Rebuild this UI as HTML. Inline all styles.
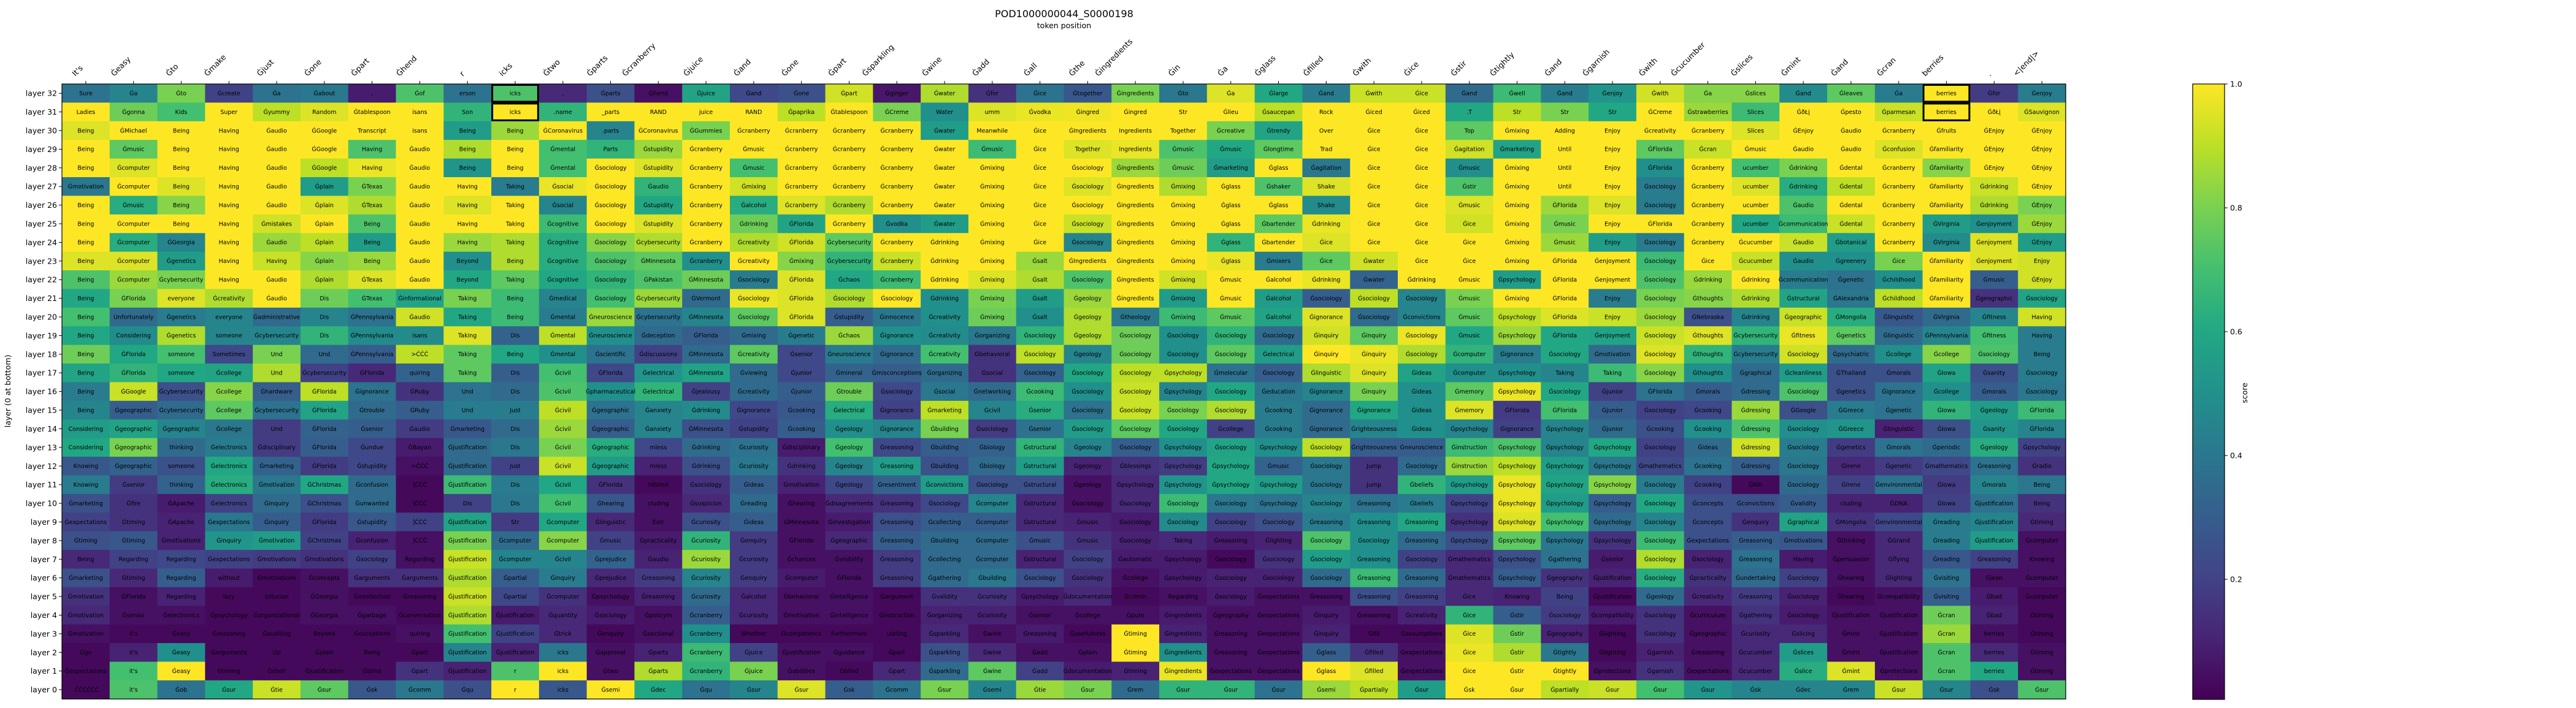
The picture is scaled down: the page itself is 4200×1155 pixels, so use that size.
<!DOCTYPE html>
<html><head><meta charset="utf-8"><title>POD1000000044_S0000198</title>
<style>
html,body{margin:0;padding:0;background:#fff;}
svg{display:block;font-family:"DejaVu Sans","Liberation Sans",sans-serif;}
</style></head>
<body>
<svg id="chart" xmlns="http://www.w3.org/2000/svg" width="4200" height="1155" viewBox="0 0 4200 1155">
<rect x="0" y="0" width="4200" height="1155" fill="#fff"/>
<text x="1735" y="28" font-size="16" text-anchor="middle" fill="#000">POD1000000044_S0000198</text>
<text x="1735" y="46" font-size="12.5" text-anchor="middle" fill="#000">token position</text>
<text x="0" y="0" font-size="12.5" text-anchor="middle" fill="#000" transform="translate(17,638) rotate(-90)">layer (0 at bottom)</text>
<g id="cells"></g>
<g id="labels"></g>
<g id="xticks"></g>
<g id="yticks"></g>
<g id="highlights"></g>
<rect id="frame" fill="none" stroke="#000" stroke-width="1.2"/>
<defs><linearGradient id="vgrad" x1="0" y1="1" x2="0" y2="0"></linearGradient></defs>
<g id="cbar"></g>
<text x="0" y="0" font-size="12.5" text-anchor="middle" fill="#000" transform="translate(3664,641) rotate(-90)">score</text>
</svg>
<script>
// ---------- data ----------
const xTickLabels = ["It's","Ġeasy","Ġto","Ġmake","Ġjust","Ġone","Ġpart","Ġhend","r","icks","Ġtwo","Ġparts","Ġcranberry","Ġjuice","Ġand","Ġone","Ġpart","Ġsparkling","Ġwine","Ġadd","Ġall","Ġthe","Ġingredients","Ġin","Ġa","Ġglass","Ġfilled","Ġwith","Ġice","Ġstir","Ġtightly","Ġand","Ġgarnish","Ġwith","Ġcucumber","Ġslices","Ġmint","Ġand","Ġcran","berries",".","<|end|>"];
const layerLabels = [32,31,30,29,28,27,26,25,24,23,22,21,20,19,18,17,16,15,14,13,12,11,10,9,8,7,6,5,4,3,2,1,0];
const colorbarTicks = [0.2,0.4,0.6,0.8,1.0];
const colorbarTickLabels = ["0.2","0.4","0.6","0.8","1.0"];
const highlightCells = [[32,9],[31,9],[32,39],[31,39]];
const scoreMin = 0.006, scoreMax = 1.0;

// tokens per row, layer 32 first
const tokens = [
"Sure|Ġa|Ġto|Ġcreate|Ġa|Ġabout|,|Ġof|erson|icks|,|Ġparts|Ġhend|Ġjuice|Ġand|Ġone|Ġpart|Ġginger|Ġwater|Ġfor|Ġice|Ġtogether|Ġingredients|Ġto|Ġa|Ġlarge|Ġand|Ġwith|Ġice|Ġand|Ġwell|Ġand|Ġenjoy|Ġwith|Ġa|Ġslices|Ġand|Ġleaves|Ġa|berries|Ġfor|Ġenjoy",
"Ladies|Ġgonna|Kids|Super|Ġyummy|Random|Ġtablespoon|isans|Son|icks|.name|_parts|RAND|juice|RAND|Ġpaprika|Ġtablespoon|ĠCreme|Water|umm|Ġvodka|Ġingred|Ġingred|Str|Ġlieu|Ġsaucepan|Rock|Ġiced|Ġiced|.T|Str|Str|Str|ĠCreme|Ġstrawberries|Slices|ĠðŁį|Ġpesto|Ġparmesan|berries|ĠðŁį|ĠSauvignon",
"Being|ĠMichael|Being|Having|Ġaudio|ĠGoogle|Transcript|isans|Being|Being|ĠCoronavirus|.parts|ĠCoronavirus|ĠGummies|Ġcranberry|Ġcranberry|Ġcranberry|Ġcranberry|Ġwater|Meanwhile|Ġice|ĠIngredients|Ingredients|Together|Ġcreative|Ġtrendy|Over|Ġice|Ġice|Top|Ġmixing|Adding|Enjoy|Ġcreativity|Ġcranberry|Slices|ĠEnjoy|Ġaudio|Ġcranberry|Ġfruits|ĠEnjoy|ĠEnjoy",
"Being|Ġmusic|Being|Having|Ġaudio|ĠGoogle|Having|Ġaudio|Being|Being|Ġmental|Parts|Ġstupidity|Ġcranberry|Ġmusic|Ġcranberry|Ġcranberry|Ġcranberry|Ġwater|Ġmusic|Ġice|Together|Ingredients|Ġmusic|Ġmusic|Ġlongtime|Trad|Ġice|Ġice|Ġagitation|Ġmarketing|Until|Enjoy|ĠFlorida|Ġcran|Ġmusic|Ġaudio|Ġaudio|Ġconfusion|Ġfamiliarity|ĠEnjoy|ĠEnjoy",
"Being|Ġcomputer|Being|Having|Ġaudio|ĠGoogle|Having|Ġaudio|Being|Being|Ġmental|Ġsociology|Ġstupidity|Ġcranberry|Ġmusic|Ġcranberry|Ġcranberry|Ġcranberry|Ġwater|Ġmixing|Ġice|Ġsociology|Ġingredients|Ġmusic|Ġmarketing|Ġglass|Ġagitation|Ġice|Ġice|Ġmusic|Ġmixing|Until|Enjoy|ĠFlorida|Ġcranberry|ucumber|Ġdrinking|Ġdental|Ġcranberry|Ġfamiliarity|ĠEnjoy|ĠEnjoy",
"Ġmotivation|Ġcomputer|Being|Having|Ġaudio|Ġplain|ĠTexas|Ġaudio|Having|Taking|Ġsocial|Ġsociology|Ġaudio|Ġcranberry|Ġmixing|Ġcranberry|Ġcranberry|Ġcranberry|Ġwater|Ġmixing|Ġice|Ġsociology|Ġingredients|Ġmixing|Ġglass|Ġshaker|Shake|Ġice|Ġice|Ġstir|Ġmixing|Until|Enjoy|Ġsociology|Ġcranberry|ucumber|Ġdrinking|Ġdental|Ġcranberry|Ġfamiliarity|Ġdrinking|ĠEnjoy",
"Being|Ġmusic|Being|Having|Ġaudio|Ġplain|ĠTexas|Ġaudio|Having|Taking|Ġsocial|Ġsociology|Ġstupidity|Ġcranberry|Ġalcohol|Ġcranberry|Ġcranberry|Ġcranberry|Ġwater|Ġmixing|Ġice|Ġsociology|Ġingredients|Ġmixing|Ġglass|Ġglass|Shake|Ġice|Ġice|Ġmusic|Ġmixing|ĠFlorida|Enjoy|Ġsociology|Ġcranberry|ucumber|Ġaudio|Ġdental|Ġcranberry|Ġfamiliarity|Ġdrinking|ĠEnjoy",
"Being|Ġcomputer|Being|Having|Ġmistakes|Ġplain|Being|Ġaudio|Having|Taking|Ġcognitive|Ġsociology|Ġstupidity|Ġcranberry|Ġdrinking|ĠFlorida|Ġcranberry|Ġvodka|Ġwater|Ġmixing|Ġice|Ġsociology|Ġingredients|Ġmixing|Ġglass|Ġbartender|Ġdrinking|Ġice|Ġice|Ġice|Ġmixing|Ġmusic|Enjoy|ĠFlorida|Ġcranberry|ucumber|Ġcommunication|Ġdental|Ġcranberry|ĠVirginia|Ġenjoyment|ĠEnjoy",
"Being|Ġcomputer|ĠGeorgia|Having|Ġaudio|Ġplain|Being|Ġaudio|Having|Taking|Ġcognitive|Ġsociology|Ġcybersecurity|Ġcranberry|Ġcreativity|ĠFlorida|Ġcybersecurity|Ġcranberry|Ġdrinking|Ġmixing|Ġice|Ġsociology|Ġingredients|Ġmixing|Ġglass|Ġbartender|Ġice|Ġice|Ġice|Ġice|Ġmixing|Ġmusic|Enjoy|Ġsociology|Ġcranberry|Ġcucumber|Ġaudio|Ġbotanical|Ġcranberry|ĠVirginia|Ġenjoyment|ĠEnjoy",
"Being|Ġcomputer|Ġgenetics|Having|Having|Ġplain|Being|Ġaudio|Beyond|Being|Ġcognitive|Ġsociology|ĠMinnesota|Ġcranberry|Ġcreativity|Ġmixing|Ġcybersecurity|Ġcranberry|Ġdrinking|Ġmixing|Ġsalt|ĠIngredients|Ġingredients|Ġmixing|Ġglass|Ġmixers|Ġice|Ġwater|Ġice|Ġice|Ġmixing|ĠFlorida|Ġenjoyment|Ġsociology|Ġice|Ġcucumber|Ġaudio|Ġgreenery|Ġice|Ġfamiliarity|Ġenjoyment|Enjoy",
"Being|Ġcomputer|Ġcybersecurity|Having|Ġaudio|Ġplain|ĠTexas|Ġaudio|Beyond|Taking|Ġcognitive|Ġsociology|ĠPakistan|ĠMinnesota|Ġsociology|ĠFlorida|Ġchaos|Ġcranberry|Ġdrinking|Ġmixing|Ġsalt|Ġsociology|Ġingredients|Ġmixing|Ġmusic|Ġalcohol|Ġdrinking|Ġwater|Ġdrinking|Ġmusic|Ġpsychology|ĠFlorida|Ġenjoyment|Ġsociology|Ġdrinking|Ġdrinking|Ġcommunication|Ġgenetic|Ġchildhood|Ġfamiliarity|Ġmusic|ĠEnjoy",
"Being|ĠFlorida|everyone|Ġcreativity|Ġaudio|Dis|ĠTexas|Ġinformational|Taking|Being|Ġmedical|Ġsociology|Ġcybersecurity|ĠVermont|Ġsociology|ĠFlorida|Ġsociology|Ġsociology|Ġdrinking|Ġmixing|Ġsalt|Ġgeology|Ġingredients|Ġmixing|Ġmusic|Ġalcohol|Ġsociology|Ġsociology|Ġsociology|Ġmusic|Ġmixing|ĠFlorida|Enjoy|Ġsociology|Ġthoughts|Ġdrinking|Ġstructural|ĠAlexandria|Ġchildhood|Ġfamiliarity|Ġgeographic|Ġsociology",
"Being|Unfortunately|Ġgenetics|everyone|Ġadministrative|Dis|ĠPennsylvania|Ġaudio|Taking|Being|Ġmental|Ġneuroscience|Ġcybersecurity|ĠMinnesota|Ġsociology|ĠFlorida|Ġstupidity|Ġinnocence|Ġcreativity|Ġmixing|Ġsalt|Ġgeology|Ġtheology|Ġmixing|Ġmusic|Ġalcohol|Ġignorance|Ġsociology|Ġconvictions|Ġmusic|Ġpsychology|ĠFlorida|Enjoy|Ġsociology|ĠNebraska|Ġdrinking|Ġgeographic|ĠMongolia|Ġlinguistic|ĠVirginia|Ġfitness|Having",
"Being|Considering|Ġgenetics|someone|Ġcybersecurity|Dis|ĠPennsylvania|isans|Taking|Dis|Ġmental|Ġneuroscience|Ġdeception|ĠFlorida|Ġmixing|Ġgenetic|Ġchaos|Ġignorance|Ġcreativity|Ġorganizing|Ġsociology|Ġgeology|Ġsociology|Ġsociology|Ġsociology|Ġsociology|Ġinquiry|Ġinquiry|Ġsociology|Ġmusic|Ġpsychology|ĠFlorida|Ġenjoyment|Ġsociology|Ġthoughts|Ġcybersecurity|Ġfitness|Ġgenetics|Ġlinguistic|ĠPennsylvania|Ġfitness|Having",
"Being|ĠFlorida|someone|Sometimes|Und|Und|ĠPennsylvania|>ĊĊĊ|Taking|Being|Ġmental|Ġscientific|Ġdiscussions|ĠMinnesota|Ġcreativity|Ġsenior|Ġneuroscience|Ġignorance|Ġcreativity|Ġbehavioral|Ġsociology|Ġgeology|Ġsociology|Ġsociology|Ġsociology|Ġelectrical|Ġinquiry|Ġinquiry|Ġsociology|Ġcomputer|Ġignorance|Ġsociology|Ġmotivation|Ġsociology|Ġthoughts|Ġcybersecurity|Ġsociology|Ġpsychiatric|Ġcollege|Ġcollege|Ġsociology|Being",
"Being|ĠFlorida|someone|Ġcollege|Und|Ġcybersecurity|ĠFlorida|quiring|Taking|Dis|Ġcivil|ĠFlorida|Ġelectrical|ĠMinnesota|Ġviewing|Ġjunior|Ġmineral|Ġmisconceptions|Ġorganizing|Ġsocial|Ġsociology|Ġsociology|Ġsociology|Ġpsychology|Ġmolecular|Ġsociology|Ġlinguistic|Ġinquiry|Ġideas|Ġcomputer|Ġpsychology|Taking|Taking|Ġsociology|Ġthoughts|Ġgraphical|Ġcleanliness|ĠThailand|Ġmorals|ĠIowa|Ġsanity|Ġsociology",
"Being|ĠGoogle|Ġcybersecurity|Ġcollege|Ġhardware|ĠFlorida|Ġignorance|ĠRuby|Und|Dis|Ġcivil|Ġpharmaceutical|Ġelectrical|Ġjealousy|Ġcreativity|Ġjunior|Ġtrouble|Ġsociology|Ġsocial|Ġnetworking|Ġcooking|Ġsociology|Ġsociology|Ġpsychology|Ġsociology|Ġeducation|Ġignorance|Ġinquiry|Ġideas|Ġmemory|Ġpsychology|Ġsociology|Ġjunior|ĠFlorida|Ġmorals|Ġdressing|Ġsociology|Ġgenetics|Ġignorance|Ġcollege|Ġmorals|Ġsociology",
"Being|Ġgeographic|Ġcybersecurity|Ġcollege|Ġcybersecurity|ĠFlorida|Ġtrouble|ĠRuby|Und|Just|Ġcivil|Ġgeographic|Ġanxiety|Ġdrinking|Ġignorance|Ġcooking|Ġelectrical|Ġignorance|Ġmarketing|Ġcivil|Ġsenior|Ġsociology|Ġsociology|Ġsociology|Ġsociology|Ġcooking|Ġignorance|Ġignorance|Ġideas|Ġmemory|ĠFlorida|ĠFlorida|Ġjunior|Ġsociology|Ġcooking|Ġdressing|ĠGoogle|ĠGreece|Ġgenetic|ĠIowa|Ġgeology|ĠFlorida",
"Considering|Ġgeographic|Ġgeographic|Ġcollege|Und|ĠFlorida|Ġsenior|Ġaudio|Ġmarketing|Dis|Ġcivil|Ġgeographic|Ġanxiety|ĠMinnesota|Ġstupidity|Ġcooking|Ġgeology|Ġignorance|Ġbuilding|Ġsociology|Ġsenior|Ġsociology|Ġsociology|Ġsociology|Ġcollege|Ġcooking|Ġignorance|Ġrighteousness|Ġideas|Ġpsychology|Ġignorance|Ġpsychology|Ġjunior|Ġcooking|Ġcooking|Ġdressing|Ġsociology|ĠGreece|Ġlinguistic|ĠIowa|Ġsanity|ĠFlorida",
"Considering|Ġgeographic|thinking|Ġelectronics|Ġdisciplinary|ĠFlorida|Ġundue|ĠBayan|Ġjustification|Dis|Ġcivil|Ġgeographic|mless|Ġdrinking|Ġcuriosity|Ġdisciplinary|Ġgeology|Ġreasoning|Ġbuilding|Ġbiology|Ġstructural|Ġgeology|Ġsociology|Ġpsychology|Ġsociology|Ġpsychology|Ġsociology|Ġrighteousness|Ġneuroscience|Ġinstruction|Ġpsychology|Ġpsychology|Ġpsychology|Ġsociology|Ġideas|Ġdressing|Ġsociology|Ġgenetics|Ġmorals|Ġperiodic|Ġgeology|Ġpsychology",
"Knowing|Ġgeographic|someone|Ġelectronics|Ġmarketing|ĠFlorida|Ġstupidity|>ĊĊĊ|Ġjustification|Just|Ġcivil|Ġgeographic|mless|Ġdrinking|Ġcuriosity|Ġdrinking|Ġgeology|Ġreasoning|Ġbuilding|Ġbiology|Ġstructural|Ġgeology|Ġblessings|Ġpsychology|Ġpsychology|Ġmusic|Ġsociology|Jump|Ġsociology|Ġinstruction|Ġpsychology|Ġpsychology|Ġpsychology|Ġmathematics|Ġcooking|Ġdressing|Ġsociology|Ġlrene|Ġgenetic|Ġmathematics|Ġreasoning|Ġradio",
"Knowing|Ġsenior|thinking|Ġelectronics|Ġmotivation|ĠChristmas|Ġconfusion|]ĊĊĊ|Ġjustification|Dis|Ġcivil|ĠFlorida|hibited|Ġsociology|Ġideas|Ġmotivation|Ġgeology|Ġresentment|Ġconvictions|Ġsociology|Ġstructural|Ġgeology|Ġpsychology|Ġpsychology|Ġpsychology|Ġpsychology|Ġsociology|Jump|Ġbeliefs|Ġpsychology|Ġpsychology|Ġpsychology|Ġpsychology|Ġsociology|Ġcooking|ĠNih|Ġsociology|Ġlrene|Ġenvironmental|ĠIowa|Ġmorals|Being",
"Ġmarketing|Ġfire|ĠApache|Ġelectronics|Ġinquiry|ĠChristmas|Ġunwanted|]ĊĊĊ|Dis|Dis|Ġcivil|Ġhearing|cluding|Ġsuspicion|Ġreading|Ġhearing|Ġdisagreements|Ġreasoning|Ġsociology|Ġcomputer|Ġstructural|Ġsociology|Ġsociology|Ġsociology|Ġsociology|Ġpsychology|Ġsociology|Ġreasoning|Ġbeliefs|Ġpsychology|Ġpsychology|Ġpsychology|Ġpsychology|Ġsociology|Ġconcepts|Ġconvictions|Ġvalidity|cluding|ĠDNA|ĠIowa|Ġjustification|Being",
"Ġexpectations|Ġtiming|ĠApache|Ġexpectations|Ġinquiry|ĠFlorida|Ġstupidity|]ĊĊĊ|Ġjustification|Str|Ġcomputer|Ġlinguistic|Extr|Ġcuriosity|Ġideas|ĠMinnesota|Ġinvestigation|Ġreasoning|Ġcollecting|Ġcomputer|Ġstructural|Ġmusic|Ġsociology|Ġsociology|Ġsociology|Ġsociology|Ġreasoning|Ġreasoning|Ġreasoning|Ġpsychology|Ġpsychology|Ġpsychology|Ġpsychology|Ġsociology|Ġconcepts|Ġenquiry|Ġgraphical|ĠMongolia|Ġenvironmental|Ġreading|Ġjustification|Ġtiming",
"Ġtiming|Ġtiming|Ġmotivations|Ġinquiry|Ġmotivation|ĠChristmas|Ġconfusion|]ĊĊĊ|Ġjustification|Ġcomputer|Ġcomputer|Ġmusic|Ġpracticality|Ġcuriosity|Ġenquiry|ĠFlorida|Ġgeographic|Ġreasoning|Ġbuilding|Ġcomputer|Ġmusic|Ġmusic|Ġsociology|Taking|Ġreasoning|Ġlighting|Ġsociology|Ġsociology|Ġreasoning|Ġpsychology|Ġpsychology|Ġpsychology|Ġpsychology|Ġsociology|Ġexpectations|Ġreasoning|Ġmotivations|Ġthinking|ĠGrand|Ġreading|Ġjustification|Ġcomputer",
"Being|Regarding|Regarding|Ġexpectations|Ġmotivations|Ġmotivations|Ġsociology|Regarding|Ġjustification|Ġcomputer|Ġcivil|Ġprejudice|Ġaudio|Ġcuriosity|Ġcuriosity|Ġchances|Ġvisibility|Ġreasoning|Ġcollecting|Ġcomputer|Ġstructural|Ġsociology|Ġautomatic|Ġpsychology|Ġsociology|Ġsociology|Ġsociology|Ġreasoning|Ġsociology|Ġmathematics|Ġpsychology|Ġgathering|Ġsenior|Ġsociology|Ġsociology|Ġreasoning|Having|Ġpersuasion|Ġflying|Ġreading|Ġreasoning|Knowing",
"Ġmarketing|Ġtiming|Regarding|without|Ġmotivations|Ġconcepts|Ġarguments|Ġarguments|Ġjustification|Ġpartial|Ġinquiry|Ġprejudice|Ġreasoning|Ġcuriosity|Ġenquiry|Ġcomputer|ĠFlorida|Ġreasoning|Ġgathering|Ġbuilding|Ġsociology|Ġsociology|Ġcollege|Ġpsychology|Ġsociology|Ġsociology|Ġsociology|Ġreasoning|Ġreasoning|Ġmathematics|Ġpsychology|Ġgeography|Ġjustification|Ġsociology|Ġpracticality|Ġundertaking|Ġsociology|Ġhearing|Ġlighting|Ġvisiting|Ġjean|Ġcomputer",
"Ġmotivation|ĠFlorida|Regarding|lazy|stitution|ĠGeorgia|Ġintellectual|Ġreasoning|Ġjustification|Ġpartial|Ġcomputer|Ġpsychology|Ġreasoning|Ġcuriosity|Ġalcohol|Ġbehavioral|Ġintelligence|Ġargument|Ġvalidity|Ġcuriosity|Ġpsychology|Ġdocumentation|Ġcrimin|Regarding|Ġsociology|Ġexpectations|Ġreasoning|Ġreasoning|Ġreasoning|Ġice|Knowing|Being|Ġjustification|Ġgeology|Ġcreativity|Ġreasoning|Ġsociology|Ġhearing|Ġcompatibility|Ġvisiting|Ġbad|Ġcomputer",
"Ġmotivation|Ġsenior|Ġelectronics|Ġpsychology|Ġorganizational|ĠGeorgia|Ġgarbage|Ġconversation|Ġjustification|Ġjustification|Ġquantity|Ġsociology|Ġpolicym|Ġcranberry|Ġcuriosity|Ġmotivation|Ġintelligence|Ġinstruction|Ġorganizing|Ġcuriosity|Ġsenior|Ġcollege|Ġpure|Ġingredients|Ġgeography|Ġexpectations|Ġinquiry|Ġreasoning|Ġcreativity|Ġice|Ġstir|Ġsociology|Ġcompatibility|Ġsociology|Ġcurriculum|Ġgathering|Ġsociology|Ġjustification|Ġjustification|Ġcran|Ġbad|Ġtiming",
"Ġmotivation|it's|Ġeasy|Ġreasoning|Ġauditing|Beyond|Ġexceptions|quiring|Ġjustification|Ġjustification|Ġtrick|Ġenquiry|Ġsectional|Ġcranberry|Whether|Ġcompetence|Furthermore|ulating|Ġsparkling|Ġwine|Ġreasoning|Ġusefulness|Ġtiming|Ġingredients|Ġreasoning|Ġexpectations|Ġinquiry|Ġfill|Ġassumptions|Ġice|Ġstir|Ġgeography|Ġlighting|Ġsociology|Ġgeographic|Ġcuriosity|Ġslicing|Ġmint|Ġjustification|Ġcran|berries|Ġtiming",
"Ġge|it's|Ġeasy|Ġarguments|Up|Ġplain|Being|Ġpart|Ġjustification|Ġjustification|icks|Ġapproval|Ġparts|Ġcranberry|Ġjuice|Ġjustification|Ġguidance|Ġpart|Ġsparkling|Ġwine|Ġadd|Ġplain|Ġtiming|Ġingredients|Ġreasoning|Ġexpectations|Ġglass|Ġfilled|Ġexpectations|Ġice|Ġstir|Ġtightly|Ġlighting|Ġgarnish|Ġreasoning|Ġcucumber|Ġslices|Ġmint|Ġjustification|Ġcran|berries|Ġtiming",
"Ġexpectations|it's|Ġeasy|Ġtiming|Ġshell|Ġjustification|Ġblind|Ġpart|Ġjustification|r|icks|Ġtwo|Ġparts|Ġcranberry|Ġjuice|Ġabilities|Ġblind|Ġpart|Ġsparkling|Ġwine|Ġadd|Ġdocumentation|Ġtiming|Ġingredients|Ġexpectations|Ġexpectations|Ġglass|Ġfilled|Ġexpectations|Ġice|Ġstir|Ġtightly|Ġprotections|Ġgarnish|Ġexpectations|Ġcucumber|Ġslice|Ġmint|Ġprotections|Ġcran|berries|Ġtiming",
".ĊĊĊĊĊĊ|it's|Ġob|Ġsur|Ġtie|Ġsur|Ġsk|Ġcomm|Ġqu|r|icks|Ġsemi|Ġdec|Ġqu|Ġsur|Ġsur|Ġsk|Ġcomm|Ġsur|Ġsemi|Ġtie|Ġsur|Ġrem|Ġsur|Ġsur|Ġsur|Ġsemi|Ġpartially|Ġsur|Ġsk|Ġsur|Ġpartially|Ġsur|Ġsur|Ġsur|Ġsk|Ġdec|Ġrem|Ġsur|Ġsur|Ġsk|Ġsur"
].map(r => r.split("|"));

// scores per row, layer 32 first
const scores = [
[.38,.45,.8,.2,.38,.4,.08,.72,.38,.72,.12,.25,.05,.58,.22,.25,.93,.07,.88,.15,.38,.28,.8,.4,.95,.6,.42,.92,.92,.35,.68,.42,.52,.93,.82,.82,.48,.75,.42,1,.18,.42],
[1,.78,.7,1,.9,.95,1,1,.65,1,.65,1,1,1,1,.9,1,.8,.5,.95,.97,.98,1,1,1,.9,1,1,1,.6,.9,.8,.6,1,.85,.68,1,1,.92,1,1,.95],
[.95,1,1,1,1,1,1,1,.55,.85,1,.45,1,.8,1,1,1,1,.55,1,1,1,1,1,.8,.58,1,1,1,.75,1,1,1,1,1,.95,1,1,1,1,1,1],
[1,.75,1,1,1,1,.72,1,.88,1,.7,.65,.85,1,1,1,1,1,1,.68,1,.95,.97,.72,.6,.75,1,1,1,.93,.58,1,1,.75,.92,1,1,1,.95,1,1,1],
[1,.95,1,1,1,.9,.97,1,.52,1,.7,1,.95,1,.7,1,1,1,1,1,1,1,.85,.78,.55,1,.4,1,1,.5,1,1,1,.5,1,.7,.8,1,1,.82,1,1],
[.4,1,.95,1,1,.55,.8,1,1,.42,.97,1,.65,1,.93,1,1,1,1,1,1,.95,1,.88,1,.72,.95,1,1,.72,1,1,1,.42,1,.95,.62,.9,1,1,.92,1],
[1,.62,.82,1,1,.95,.88,1,.95,1,.45,1,.6,1,.62,.95,.88,1,1,1,1,1,1,1,1,1,.48,1,1,.95,1,.85,.95,.42,1,1,.72,1,1,1,.88,.8],
[1,1,1,1,.93,1,.72,1,1,1,.68,1,.95,1,.78,.58,1,.5,.55,1,1,.92,1,1,1,.75,.97,1,1,.93,1,.8,1,1,1,.6,.68,.92,1,.55,.5,.85],
[1,.62,.45,1,.85,.9,.55,1,.85,.88,.62,.82,.88,1,.88,.93,.75,1,1,1,1,.45,1,1,.65,1,.95,1,1,1,1,.85,.55,.42,1,1,.92,.55,1,.48,.95,.55],
[.95,.95,.55,1,.92,.82,.85,1,.5,.88,.62,.72,.75,.5,1,.82,.65,.92,1,1,.85,1,1,1,.97,.42,.75,.93,1,1,1,1,1,.68,1,.92,.5,.5,.8,1,.95,.93],
[.72,.85,.8,1,1,.88,.95,1,.6,.75,.6,.65,.72,.78,.42,.95,.6,.68,1,.95,.88,.72,1,.93,1,1,.97,.32,1,1,.55,1,1,.72,.85,1,.42,.38,.5,1,.3,.93],
[.6,.8,.95,.88,1,.78,.7,.58,.8,.68,.45,.7,.85,.35,.97,.95,.88,1,.5,.8,.55,.85,1,.55,1,.55,.3,.9,.45,.8,1,1,.42,.8,.82,.88,.58,.4,.9,1,.15,.58],
[.7,.35,.42,.45,.35,.45,.38,.93,.6,.68,.42,.85,.38,.45,.75,.95,.3,.4,.5,.78,.5,.88,.4,.68,.75,.58,.95,.35,.45,.75,.9,.95,.92,.85,.25,.45,.92,.62,.28,.35,.45,.93],
[.6,.48,.88,.45,.45,.65,.48,.48,.95,.32,.9,.5,.35,.3,.35,.42,.85,.5,.48,.4,.65,.88,.78,.5,.65,.35,.93,.75,.97,.6,.85,.6,.58,.92,.95,.65,.97,.75,.35,.45,.7,.42],
[.78,.6,.7,.22,.8,.35,.3,.9,.75,.6,.5,.38,.2,.35,.75,.22,.42,.35,.7,.15,.9,.45,.78,.5,.75,.55,1,.97,.88,.65,.42,.6,.35,.95,.65,.42,.93,.35,.5,.82,.72,.42],
[.58,.65,.6,.58,.88,.2,.12,.32,.75,.3,.7,.22,.52,.58,.35,.22,.32,.3,.35,.15,.32,.6,.9,.9,.38,.3,.88,.95,.58,.5,.5,.45,.68,.82,.5,.35,.55,.25,.25,.58,.25,.42],
[.42,.92,.25,.82,.3,.9,.38,.15,.38,.35,.72,.5,.65,.2,.35,.3,.78,.22,.4,.35,.68,.5,.92,.45,.6,.4,.45,.8,.5,.75,.97,.6,.2,.38,.3,.35,.72,.25,.38,.5,.3,.4],
[.45,.3,.35,.75,.38,.58,.35,.3,.42,.42,.9,.38,.45,.48,.22,.28,.62,.2,.9,.45,.62,.38,.92,.8,.88,.42,.35,.6,.5,.95,.18,.7,.3,.2,.22,.85,.25,.42,.38,.65,.55,.68],
[.55,.58,.45,.4,.18,.32,.3,.18,.28,.35,.85,.3,.45,.25,.2,.3,.5,.45,.8,.18,.38,.55,.75,.6,.2,.42,.35,.45,.5,.45,.2,.45,.35,.25,.5,.72,.5,.52,.1,.25,.52,.45],
[.6,.8,.35,.42,.18,.3,.22,.08,.35,.4,.8,.62,.22,.35,.38,.08,.7,.22,.3,.32,.65,.45,.3,.5,.58,.5,.9,.3,.3,.68,.72,.45,.6,.2,.35,.93,.42,.18,.38,.35,.62,.2],
[.28,.32,.25,.6,.32,.18,.22,.05,.35,.2,.92,.55,.1,.25,.4,.15,.45,.55,.25,.35,.55,.1,.15,.18,.6,.32,.4,.15,.35,.85,.9,.55,.4,.22,.38,.3,.4,.12,.18,.22,.38,.15],
[.42,.18,.32,.62,.4,.6,.35,.03,.68,.42,.6,.15,.03,.15,.3,.1,.22,.32,.55,.25,.25,.05,.12,.52,.6,.55,.4,.15,.65,.55,.97,.58,.82,.42,.2,.03,.35,.2,.38,.18,.45,.4],
[.25,.15,.08,.2,.35,.25,.35,.03,.2,.4,.7,.28,.05,.12,.35,.05,.12,.15,.22,.45,.12,.05,.12,.68,.4,.38,.45,.38,.42,.2,.97,.55,.3,.6,.25,.25,.3,.1,.1,.2,.38,.15],
[.2,.15,.1,.4,.3,.18,.28,.2,.58,.18,.6,.12,.05,.25,.3,.05,.08,.25,.3,.3,.12,.1,.08,.48,.2,.25,.42,.5,.6,.15,.95,.7,.35,.45,.25,.15,.58,.15,.22,.42,.45,.12],
[.25,.28,.1,.52,.55,.2,.1,.05,.8,.35,.82,.2,.08,.65,.18,.05,.12,.3,.35,.35,.25,.15,.1,.12,.08,.1,.72,.5,.35,.25,.75,.4,.15,.68,.25,.3,.28,.05,.12,.42,.55,.05],
[.12,.2,.22,.2,.18,.15,.2,.05,.92,.45,.45,.32,.1,.85,.18,.05,.05,.18,.35,.35,.1,.2,.08,.08,.03,.15,.55,.5,.2,.12,.25,.38,.08,.88,.1,.38,.08,.05,.12,.28,.2,.05],
[.25,.12,.3,.08,.03,.05,.15,.15,.88,.3,.42,.12,.18,.45,.18,.08,.05,.18,.35,.4,.25,.15,.05,.08,.1,.1,.35,.68,.35,.12,.3,.15,.1,.62,.15,.35,.2,.05,.12,.38,.05,.05],
[.15,.05,.1,.03,.03,.05,.03,.03,.92,.22,.15,.05,.1,.35,.12,.05,.05,.03,.15,.15,.08,.12,.03,.05,.08,.05,.05,.25,.2,.12,.1,.2,.03,.35,.12,.18,.1,.03,.05,.3,.08,.03],
[.12,.05,.05,.03,.03,.05,.05,.03,.88,.08,.12,.08,.05,.3,.12,.05,.05,.03,.1,.1,.05,.05,.05,.08,.05,.05,.08,.05,.1,.65,.3,.18,.08,.15,.05,.15,.08,.05,.05,.78,.1,.03],
[.05,.03,.03,.03,.03,.03,.03,.05,.7,.2,.12,.03,.05,.5,.03,.03,.03,.03,.12,.05,.08,.03,1,.1,.05,.05,.1,.03,.03,.95,.78,.1,.03,.15,.05,.12,.12,.05,.05,.85,.05,.03],
[.03,.1,.5,.03,.03,.03,.03,.03,.45,.1,.4,.05,.1,.68,.2,.05,.05,.03,.25,.12,.05,.05,1,.5,.05,.05,.3,.15,.05,.97,.88,.4,.03,.1,.05,.12,.55,.05,.05,.72,.12,.05],
[.03,.7,1,.03,.03,.03,.03,.15,.1,.72,1,.05,.88,.65,.8,.05,.03,.12,.35,.75,.2,.08,.1,.97,.05,.05,1,.95,.05,1,1,1,.05,.15,.05,.12,.62,.95,.05,.72,.6,.05],
[.03,.72,.38,.6,.92,.75,.28,.4,.25,1,.28,1,.6,.38,.45,.95,.3,.38,.8,.45,.85,.8,.35,.65,.65,.38,.85,.9,.55,1,1,.9,.92,.7,.52,.45,.45,.45,.92,.45,.25,.72]
];

// ---------- rendering ----------
const NS = "http://www.w3.org/2000/svg";
const X0 = 101, X1 = 3368, Y0 = 137, Y1 = 1140.3;
const nCols = xTickLabels.length, nRows = layerLabels.length;
const cw = (X1 - X0) / nCols, rh = (Y1 - Y0) / nRows;
const xPos = c => X0 + c * cw;
const yPos = r => Y0 + r * rh;
const rowOfLayer = L => layerLabels.indexOf(L);

const VIR = ["#440154","#482475","#414487","#355f8d","#2a788e","#21918c","#22a884","#44bf70","#7ad151","#bddf26","#fde725"];
function hex2rgb(h){return [parseInt(h.substr(1,2),16),parseInt(h.substr(3,2),16),parseInt(h.substr(5,2),16)];}
function viridis(v){
  let t = (v - scoreMin) / (scoreMax - scoreMin);
  t = Math.max(0, Math.min(1, t));
  const f = t * 10, i = Math.min(9, Math.floor(f)), u = f - i;
  const a = hex2rgb(VIR[i]), b = hex2rgb(VIR[i+1]);
  return "rgb(" + a.map((x,k)=>Math.round(x + (b[k]-x)*u)).join(",") + ")";
}
function mk(tag, attrs, parent){
  const e = document.createElementNS(NS, tag);
  for (const k in attrs) e.setAttribute(k, attrs[k]);
  parent.appendChild(e);
  return e;
}

const gCells = document.getElementById("cells");
const gLab = document.getElementById("labels");
for (let r = 0; r < nRows; r++) {
  for (let c = 0; c < nCols; c++) {
    const rect = mk("rect", {x: xPos(c), y: yPos(r), width: cw + 0.6, height: rh + 0.6, fill: viridis(scores[r][c])}, gCells);
    
    
    const t = mk("text", {x: xPos(c) + cw/2, y: yPos(r) + rh/2 + 3.3, "font-size": "9.5", "text-anchor": "middle", fill: "#000"}, gLab);
    t.textContent = tokens[r][c];
    
    
  }
}

const frame = document.getElementById("frame");
frame.setAttribute("x", X0); frame.setAttribute("y", Y0);
frame.setAttribute("width", X1 - X0); frame.setAttribute("height", Y1 - Y0);

// x ticks (top)
const gx = document.getElementById("xticks");
for (let c = 0; c < nCols; c++) {
  const xc = xPos(c) + cw/2;
  const tk = mk("line", {x1: xc, y1: Y0, x2: xc, y2: Y0 - 5, stroke: "#000", "stroke-width": 1}, gx);
  
  
  const t = mk("text", {x: 0, y: 0, "font-size": "12.5", fill: "#000"}, gx);
  t.textContent = xTickLabels[c];
  
  
  const L = t.getComputedTextLength();
  const xs = xc - L * 0.7071 - 4, ys = 125;
  t.setAttribute("transform", "translate(" + xs + "," + ys + ") rotate(-45)");
}

// y ticks (left)
const gy = document.getElementById("yticks");
for (let r = 0; r < nRows; r++) {
  const yc = yPos(r) + rh/2;
  const tk = mk("line", {x1: X0, y1: yc, x2: X0 - 5, y2: yc, stroke: "#000", "stroke-width": 1}, gy);
  
  
  const t = mk("text", {x: X0 - 8, y: yc + 4.5, "font-size": "12.5", "text-anchor": "end", fill: "#000"}, gy);
  t.textContent = "layer " + layerLabels[r];
  
  
}

// highlight boxes
const gh = document.getElementById("highlights");
highlightCells.forEach(([L, c]) => {
  const r = rowOfLayer(L);
  const b = mk("rect", {x: xPos(c) + 1.5, y: yPos(r) + 1.5, width: cw - 3, height: rh - 3, fill: "none", stroke: "#000", "stroke-width": 3}, gh);
  
  
});

// colorbar
const CB_X = 3575, CB_W = 52, CB_Y0 = 137, CB_Y1 = 1141;
const grad = document.getElementById("vgrad");
VIR.forEach((col, i) => { mk("stop", {offset: (i*10) + "%", "stop-color": col}, grad); });
const gcb = document.getElementById("cbar");
const cbr = mk("rect", {x: CB_X, y: CB_Y0, width: CB_W, height: CB_Y1 - CB_Y0, fill: "url(#vgrad)", stroke: "#000", "stroke-width": 1.2}, gcb);


const cbY = v => CB_Y1 - (v - scoreMin) / (scoreMax - scoreMin) * (CB_Y1 - CB_Y0);
colorbarTicks.forEach((v, i) => {
  const y = cbY(v);
  const tk = mk("line", {x1: CB_X + CB_W, y1: y, x2: CB_X + CB_W + 5, y2: y, stroke: "#000", "stroke-width": 1}, gcb);
  
  
  const t = mk("text", {x: CB_X + CB_W + 9, y: y + 4.5, "font-size": "12.5", fill: "#000"}, gcb);
  t.textContent = colorbarTickLabels[i];
  
  
});
</script>
</body></html>
